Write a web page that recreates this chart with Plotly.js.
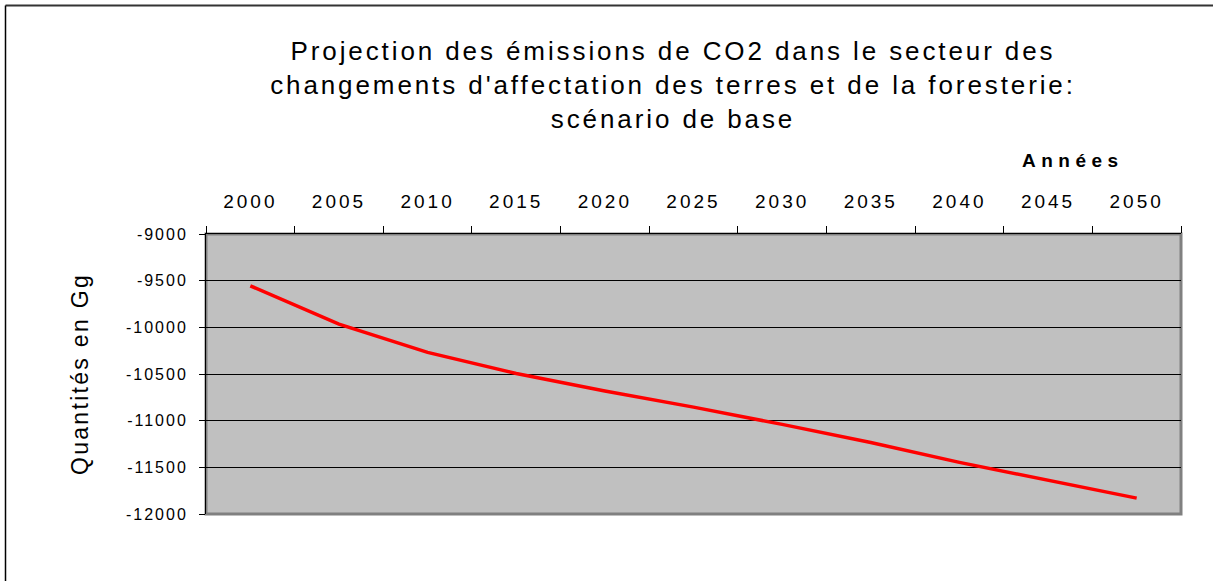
<!DOCTYPE html>
<html>
<head>
<meta charset="utf-8">
<script src="https://cdn.plot.ly/plotly-3.0.1.min.js"></script>
<style>
  html, body { margin: 0; padding: 0; background: #fff; }
  #chart { width: 1213px; height: 581px; }
  .xtick text { letter-spacing: 3px; }
  .ytick text { letter-spacing: 2px; }
  .gtitle { letter-spacing: 2.9px; }
  .ytitle { letter-spacing: 2.3px; }
  .annotation-text { letter-spacing: 5.5px; }
</style>
</head>
<body>
<div id="chart"></div>
<script>
// ---- data ----
const years = ["2000", "2005", "2010", "2015", "2020", "2025", "2030", "2035", "2040", "2045", "2050"];
const emissions = [-9555, -9965, -10268, -10495, -10682, -10855, -11040, -11234, -11447, -11642, -11830];
const yTickVals = [-12000, -11500, -11000, -10500, -10000, -9500, -9000];
const yTickText = ["-12000", "-11500", "-11000", "-10500", "-10000", "-9500", "-9000"];
const chartTitle = "Projection des émissions de CO2 dans le secteur des<br>changements d'affectation des terres et de la foresterie:<br>scénario de base";
const xTitle = "Années";
const yTitle = "Quantités en Gg";

// ---- layout geometry ----
const W = 1213, H = 581;
const L = 206, R = 32, T = 234, B = 67;
const plotW = W - L - R, plotH = H - T - B;
const px = v => (v - L) / plotW;
const py = v => (H - B - v) / plotH;
const FONT = "Arial, 'Liberation Sans', sans-serif";

const trace = {
  type: "scatter",
  mode: "lines",
  x: years,
  y: emissions,
  line: { color: "#FF0000", width: 3.5 },
  hoverinfo: "x+y",
  showlegend: false
};

const layout = {
  width: W, height: H,
  margin: { l: L, r: R, t: T, b: B, pad: 0 },
  paper_bgcolor: "#FFFFFF",
  plot_bgcolor: "#C0C0C0",
  font: { family: FONT, color: "#000" },
  title: {
    text: chartTitle,
    font: { family: FONT, size: 26, color: "#000" },
    xref: "container", x: 673 / W, xanchor: "center",
    yref: "container", y: 1 - 60 / H, yanchor: "middle"
  },
  xaxis: {
    type: "category",
    side: "top",
    range: [-0.5, 10.5],
    tickson: "boundaries",
    ticks: "outside", ticklen: 7, tickcolor: "#000", tickwidth: 1,
    showline: true, linecolor: "#000", linewidth: 1,
    showgrid: false, zeroline: false,
    tickfont: { family: FONT, size: 19, color: "#000" },
    ticklabelstandoff: 17,
    fixedrange: true
  },
  yaxis: {
    range: [-12000, -9000],
    tickvals: yTickVals,
    ticktext: yTickText,
    ticks: "outside", ticklen: 6, tickcolor: "#000", tickwidth: 1,
    showline: true, linecolor: "#000", linewidth: 1,
    showgrid: true, gridcolor: "#000", gridwidth: 1,
    zeroline: false,
    tickfont: { family: FONT, size: 16, color: "#000" },
    ticklabelstandoff: 8,
    title: { text: yTitle, font: { family: FONT, size: 23, color: "#000" }, standoff: 30 },
    fixedrange: true
  },
  shapes: [
    { type: "rect", xref: "paper", yref: "paper", x0: 0, x1: 1, y0: 0, y1: 1,
      line: { color: "#808080", width: 3 }, fillcolor: "rgba(0,0,0,0)", layer: "below" },
    { type: "line", xref: "paper", yref: "paper", x0: px(5.5), x1: px(1240), y0: py(5.5), y1: py(5.5),
      line: { color: "#333333", width: 2 } },
    { type: "line", xref: "paper", yref: "paper", x0: px(5.5), x1: px(5.5), y0: py(5.5), y1: py(600),
      line: { color: "#000000", width: 1.5 } }
  ],
  annotations: [
    { text: "<b>" + xTitle + "</b>", xref: "paper", yref: "paper",
      x: px(1073), y: py(160), xanchor: "center", yanchor: "middle",
      showarrow: false, font: { family: FONT, size: 19, color: "#000" } }
  ]
};

Plotly.newPlot("chart", [trace], layout, { displayModeBar: false, staticPlot: true });
</script>
</body>
</html>
